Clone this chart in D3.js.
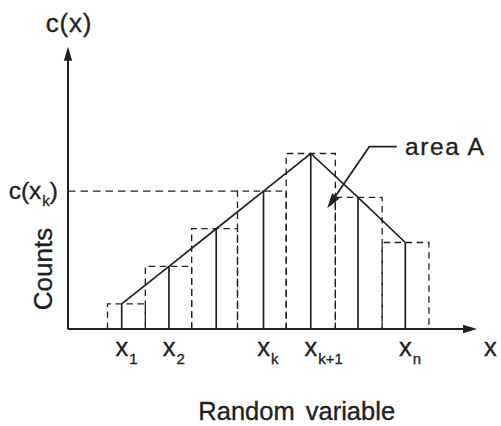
<!DOCTYPE html>
<html><head><meta charset="utf-8">
<script src="https://cdn.jsdelivr.net/npm/d3@7"></script>
<style>
html,body{margin:0;padding:0;background:#fff;}
svg{display:block;}
text{font-family:"Liberation Sans",Arial,Helvetica,sans-serif;fill:#231f20;stroke:#231f20;stroke-width:0.35px;}
</style>
</head><body>
<svg id="chart" width="501" height="426"></svg>
<script>
// ---- data ----
const pointX = [1, 2, 3, 4, 5, 6, 7];
const counts = [2, 5, 8, 11, 14, 10.5, 6.9];
const binEdges = [0.7, 1.5, 2.48, 3.45, 4.48, 5.52, 6.51, 7.5];
const labelIdx = [0, 1, 3, 4, 6];
const labelSubs = ["1", "2", "k", "k+1", "n"];
const kIndex = 3;

// ---- layout ----
const ink = "#231f20";
const svg = d3.select("#chart");
const x = d3.scaleLinear().domain([1, 7]).range([121.7, 405.3]);
const y = d3.scaleLinear().domain([0, 14]).range([329, 153.5]);
const axisX0 = 68, axisXEnd = 477, axisYTop = 46.7;

// dashed histogram bins
const bins = counts.map((c, i) => ({l: binEdges[i], r: binEdges[i + 1], c}));
svg.append("g").selectAll("path").data(bins).join("path")
  .attr("d", d => `M${x(d.l)},${y(0)}V${y(d.c)}H${x(d.r)}V${y(0)}`)
  .attr("fill", "none").attr("stroke", ink).attr("stroke-width", 1.3)
  .attr("stroke-dasharray", "6.5,4.5");

// dashed c(x_k) guide
svg.append("line")
  .attr("x1", axisX0).attr("x2", x(binEdges[kIndex]))
  .attr("y1", y(counts[kIndex])).attr("y2", y(counts[kIndex]))
  .attr("stroke", ink).attr("stroke-width", 1.3).attr("stroke-dasharray", "7.5,5");

const pts = pointX.map((px, i) => ({x: px, c: counts[i]}));
// solid verticals
svg.append("g").selectAll("line").data(pts).join("line")
  .attr("x1", d => x(d.x)).attr("x2", d => x(d.x))
  .attr("y1", y(0)).attr("y2", d => y(d.c))
  .attr("stroke", ink).attr("stroke-width", 1.7);
// polyline
svg.append("path").datum(pts)
  .attr("d", d3.line().x(d => x(d.x)).y(d => y(d.c)))
  .attr("fill", "none").attr("stroke", ink).attr("stroke-width", 1.7);

// axes
svg.append("line").attr("x1", axisX0).attr("x2", axisXEnd - 10).attr("y1", y(0)).attr("y2", y(0))
  .attr("stroke", ink).attr("stroke-width", 2);
svg.append("line").attr("x1", axisX0).attr("x2", axisX0).attr("y1", y(0)).attr("y2", axisYTop + 10)
  .attr("stroke", ink).attr("stroke-width", 2);
svg.append("path").attr("d", `M${axisXEnd},${y(0)}L${axisXEnd - 14},${y(0) - 4.2}L${axisXEnd - 14},${y(0) + 4.2}Z`).attr("fill", ink);
svg.append("path").attr("d", `M${axisX0},${axisYTop}L${axisX0 - 4.2},${axisYTop + 14}L${axisX0 + 4.2},${axisYTop + 14}Z`).attr("fill", ink);

// x labels with subscripts
labelIdx.forEach((idx, j) => {
  const t = svg.append("text").attr("x", x(pointX[idx]) - 6.3).attr("y", 356).attr("font-size", 25.5);
  t.append("tspan").text("x");
  t.append("tspan").attr("font-size", 15).attr("dx", 1).attr("dy", 8).text(labelSubs[j]);
});
svg.append("text").attr("x", 484).attr("y", 356).attr("font-size", 25.5).text("x");

// y labels
svg.append("text").attr("x", 69).attr("y", 31.5).attr("font-size", 26).attr("letter-spacing", 0.8)
  .attr("text-anchor", "middle").text("c(x)");
const ck = svg.append("text").attr("x", 58).attr("y", 198.5).attr("font-size", 24.5).attr("text-anchor", "end");
ck.append("tspan").text("c(x");
ck.append("tspan").attr("font-size", 15).attr("dx", 1).attr("dy", 7).text("k");
ck.append("tspan").attr("dy", -7).text(")");

svg.append("text").attr("transform", "translate(52,269) rotate(-90)")
  .attr("font-size", 26).attr("text-anchor", "middle").text("Counts");

svg.append("text").attr("x", 296.7).attr("y", 419.5).attr("font-size", 25.5)
  .attr("text-anchor", "middle").attr("word-spacing", 4).text("Random variable");

// area A annotation
const tip = [327.3, 208.3], elbow = [369.3, 146.7];
svg.append("path").attr("d", `M396.7,${elbow[1]}H${elbow[0]}L${tip[0] + 6},${tip[1] - 9}`)
  .attr("fill", "none").attr("stroke", ink).attr("stroke-width", 1.7);
const ang = Math.atan2(tip[1] - elbow[1], tip[0] - elbow[0]);
const L = 15, W = 4.5;
const bx = tip[0] - L * Math.cos(ang), by = tip[1] - L * Math.sin(ang);
svg.append("path").attr("d",
  `M${tip[0]},${tip[1]}L${bx + W * Math.sin(ang)},${by - W * Math.cos(ang)}L${bx - W * Math.sin(ang)},${by + W * Math.cos(ang)}Z`)
  .attr("fill", ink);
svg.append("text").attr("x", 405).attr("y", 155).attr("font-size", 24.5).attr("letter-spacing", 1.6).text("area A");
</script>
</body></html>
